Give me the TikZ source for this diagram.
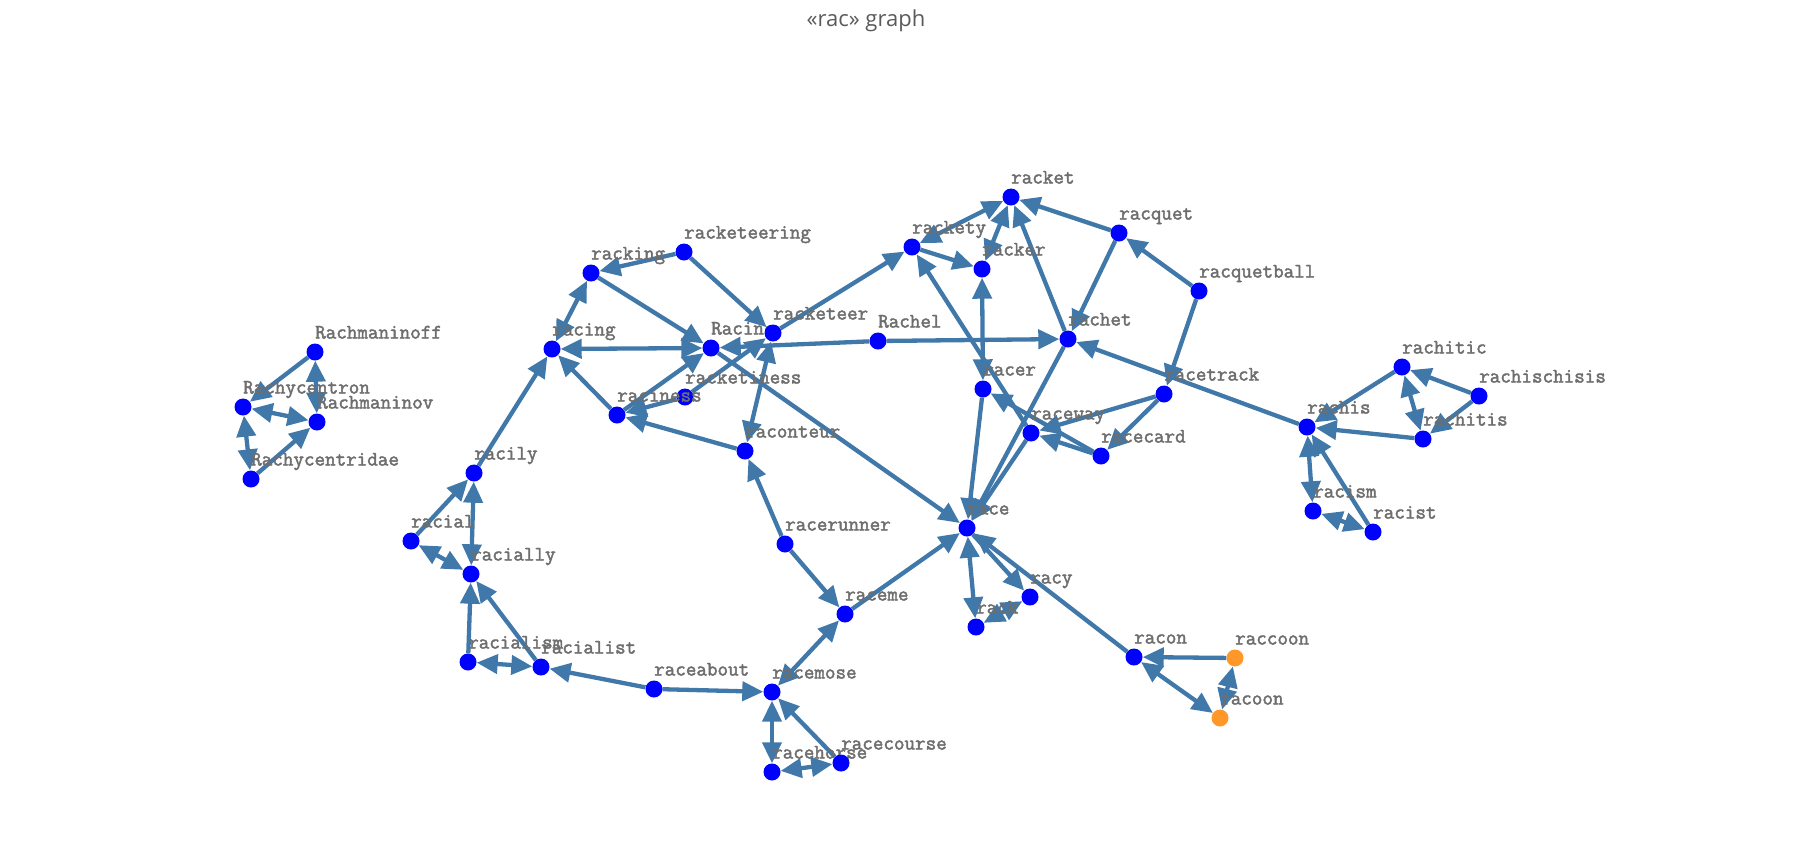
\documentclass[tikz,border=0pt]{standalone}
\usepackage{fontspec}
\setmainfont{Open Sans}
\newfontfamily\lblfont{Latin Modern Mono}[FakeBold=2.2]
\usetikzlibrary{arrows.meta}
\definecolor{edgec}{RGB}{65,120,170}
\definecolor{nodec}{RGB}{0,0,255}
\definecolor{orangec}{RGB}{255,152,40}
\definecolor{lblc}{RGB}{110,110,110}
\definecolor{titlec}{RGB}{90,90,90}
\pgfdeclarelayer{bg}
\pgfsetlayers{bg,main}
\tikzset{
  Arr/.tip={Triangle[length=21pt,width=19pt]},
  dot/.style={circle,fill=nodec,minimum size=17pt,inner sep=0pt},
  odot/.style={dot,fill=orangec},
  lbl/.style={anchor=base west,text=lblc,inner sep=0pt,font=\lblfont\fontsize{20.5}{20.5}\selectfont},
  e/.style={draw=edgec,line width=4.3pt,-Arr},
  bi/.style={e,Arr-Arr},
  ttl/.style={text=titlec,font=\fontsize{22}{22}\selectfont}
}
\newcommand\gn[4]{\node[dot] (#1) at (#2,#3) {}; \node[lbl] (#1-l) at (#2,#3-13.5) {#4};}
\newcommand\gno[4]{\node[odot] (#1) at (#2,#3) {}; \node[lbl] (#1-l) at (#2,#3-13.5) {#4};}
\begin{document}
\begin{tikzpicture}[x=1pt,y=-1pt]
\useasboundingbox (0,0) rectangle (1813,847);
\node[ttl] (title) at (866,21) {«rac» graph};
\gn{Rachmaninoff}{315}{352}{Rachmaninoff}
\gn{Rachycentron}{243}{407}{Rachycentron}
\gn{Rachmaninov}{317}{422}{Rachmaninov}
\gn{Rachycentridae}{251}{479}{Rachycentridae}
\gn{racily}{474}{473}{racily}
\gn{racing}{552}{349}{racing}
\gn{racketeering}{684}{252}{racketeering}
\gn{racking}{591}{273}{racking}
\gn{Racine}{711}{348}{Racine}
\gn{racketeer}{773}{333}{racketeer}
\gn{racketiness}{685}{397}{racketiness}
\gn{raciness}{617}{415}{raciness}
\gn{raconteur}{745}{451}{raconteur}
\gn{racket}{1011}{197}{racket}
\gn{racquet}{1119}{233}{racquet}
\gn{rackety}{912}{247}{rackety}
\gn{racker}{982}{269}{racker}
\gn{racquetball}{1199}{291}{racquetball}
\gn{Rachel}{878}{341}{Rachel}
\gn{rachet}{1068}{339}{rachet}
\gn{racer}{983}{389}{racer}
\gn{racetrack}{1164}{394}{racetrack}
\gn{raceway}{1031}{433}{raceway}
\gn{racecard}{1101}{456}{racecard}
\gn{rachitic}{1402}{367}{rachitic}
\gn{rachischisis}{1479}{396}{rachischisis}
\gn{rachis}{1307}{427}{rachis}
\gn{rachitis}{1423}{439}{rachitis}
\gn{racism}{1313}{511}{racism}
\gn{racist}{1373}{532}{racist}
\gn{racial}{411}{541}{racial}
\gn{racially}{471}{574}{racially}
\gn{racialism}{468}{662}{racialism}
\gn{racialist}{541}{667}{racialist}
\gn{raceabout}{654}{689}{raceabout}
\gn{racemose}{772}{692}{racemose}
\gn{racerunner}{785}{544}{racerunner}
\gn{race}{967}{528}{race}
\gn{raceme}{845}{614}{raceme}
\gn{racy}{1030}{597}{racy}
\gn{rack}{976}{627}{rack}
\gn{racon}{1134}{657}{racon}
\gno{raccoon}{1235}{658}{raccoon}
\gno{racoon}{1220}{718}{racoon}
\gn{racehorse}{772}{772}{racehorse}
\gn{racecourse}{841}{763}{racecourse}
\begin{pgfonlayer}{bg}
\draw[e] (Rachmaninoff) -- (Rachycentron);
\draw[bi] (Rachmaninoff) -- (Rachmaninov);
\draw[bi] (Rachycentron) -- (Rachmaninov);
\draw[bi] (Rachycentron) -- (Rachycentridae);
\draw[e] (Rachycentridae) -- (Rachmaninov);
\draw[e] (racily) -- (racing);
\draw[e] (racial) -- (racily);
\draw[bi] (racially) -- (racily);
\draw[bi] (racial) -- (racially);
\draw[e] (racialism) -- (racially);
\draw[e] (racialist) -- (racially);
\draw[bi] (racialism) -- (racialist);
\draw[e] (raceabout) -- (racialist);
\draw[e] (raceabout) -- (racemose);
\draw[bi] (racing) -- (racking);
\draw[e] (racketeering) -- (racking);
\draw[e] (racketeering) -- (racketeer);
\draw[e] (racking) -- (Racine);
\draw[bi] (racing) -- (Racine);
\draw[e] (raciness) -- (racing);
\draw[e] (raciness) -- (Racine);
\draw[e] (racketiness) -- (raciness);
\draw[e] (raconteur) -- (raciness);
\draw[e] (racketiness) -- (racketeer);
\draw[bi] (racketeer) -- (raconteur);
\draw[e] (Rachel) -- (Racine);
\draw[e] (Racine) -- (race);
\draw[e] (racketeer) -- (rackety);
\draw[e] (Rachel) -- (rachet);
\draw[e] (racerunner) -- (raconteur);
\draw[e] (racerunner) -- (raceme);
\draw[e] (raceme) -- (race);
\draw[bi] (racemose) -- (raceme);
\draw[bi] (racehorse) -- (racemose);
\draw[e] (racecourse) -- (racemose);
\draw[bi] (racehorse) -- (racecourse);
\draw[bi] (race) -- (rack);
\draw[e] (race) -- (racy);
\draw[e] (racon) -- (race);
\draw[bi] (racy) -- (rack);
\draw[e] (raccoon) -- (racon);
\draw[bi] (racon) -- (racoon);
\draw[bi] (racoon) -- (raccoon);
\draw[e] (racer) -- (race);
\draw[e] (rachet) -- (race);
\draw[e] (raceway) -- (race);
\draw[e] (rachet) -- (racket);
\draw[bi] (rackety) -- (racket);
\draw[bi] (racker) -- (racket);
\draw[e] (rackety) -- (racker);
\draw[bi] (racer) -- (racker);
\draw[e] (raceway) -- (rackety);
\draw[e] (racecard) -- (racer);
\draw[e] (racetrack) -- (raceway);
\draw[e] (racecard) -- (raceway);
\draw[e] (racetrack) -- (racecard);
\draw[e] (racquetball) -- (racetrack);
\draw[e] (racquetball) -- (racquet);
\draw[e] (racquet) -- (racket);
\draw[e] (racquet) -- (rachet);
\draw[e] (rachis) -- (rachet);
\draw[e] (rachitic) -- (rachis);
\draw[e] (rachitis) -- (rachis);
\draw[e] (rachischisis) -- (rachitic);
\draw[e] (rachischisis) -- (rachitis);
\draw[bi] (rachitic) -- (rachitis);
\draw[bi] (racism) -- (rachis);
\draw[e] (racist) -- (rachis);
\draw[bi] (racism) -- (racist);
\end{pgfonlayer}
\end{tikzpicture}
\end{document}
